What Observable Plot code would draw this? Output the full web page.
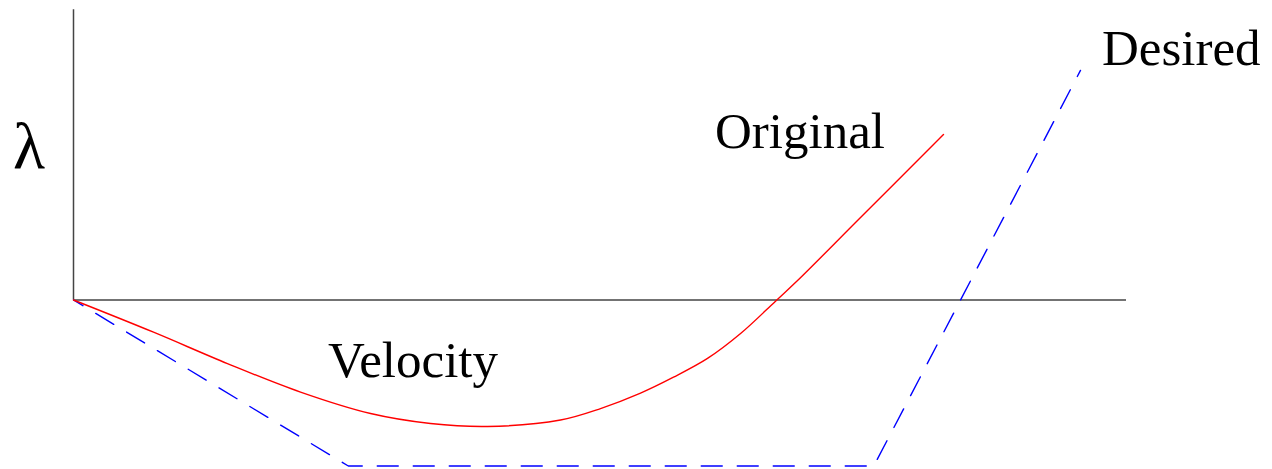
<!DOCTYPE html>
<html>
<head>
<meta charset="utf-8">
<script src="https://cdn.jsdelivr.net/npm/d3@7"></script>
<script src="https://cdn.jsdelivr.net/npm/@observablehq/plot@0.6"></script>
<style>
  html, body { margin: 0; padding: 0; background: #fff; }
  #chart { position: relative; width: 1272px; height: 469px; }
  #chart svg { display: block; overflow: visible; }
  .lbl { position: absolute; white-space: nowrap; font-family: 'Liberation Serif', 'Times New Roman', serif; color: #000; line-height: 1; margin: 0; padding: 0; }
  .lbl .base { display: inline-block; width: 0; height: 0; }
</style>
</head>
<body>
<div id="chart"></div>
<script>
// Original curve (red)
const originalX = [0, 0.760, 1.462, 2.156, 2.821, 3.390, 3.932, 4.625, 5.005, 5.385, 5.698, 6.021, 6.335, 6.667, 6.876, 7.474, 8.262];
const originalY = [0, -0.194, -0.383, -0.555, -0.684, -0.744, -0.762, -0.723, -0.654, -0.561, -0.465, -0.352, -0.202, -0.007, 0.117, 0.497, 0.997];
// Desired curve (blue dashed)
const desiredX = [0, 2.61, 7.60, 9.563];
const desiredY = [0, -1, -1, 1.383];
// Text labels
const labelText = ["λ", "Original", "Desired", "Velocity"];
const labelX = [-0.57, 6.097, 9.772, 2.422];
const labelY = [0.792, 0.913, 1.413, -0.467];
const labelSize = [66, 51, 51, 51];

const original = originalX.map((x, i) => ({x, y: originalY[i]}));
const desired = desiredX.map((x, i) => ({x, y: desiredY[i]}));

const plot = Plot.plot({
  width: 1272,
  height: 469,
  x: {domain: [0, 10], range: [73, 1126], axis: null},
  y: {domain: [-1, 1.748], range: [465.5, 9.3], axis: null},
  marks: [
    Plot.ruleX([0], {y1: 0, y2: 1.748, stroke: "#444", strokeWidth: 1.5}),
    Plot.ruleY([0], {x1: 0, x2: 10, stroke: "#444", strokeWidth: 1.5}),
    Plot.line(desired, {x: "x", y: "y", stroke: "#0000ff", strokeWidth: 1.4, strokeDasharray: "21,15", strokeDashoffset: 10}),
    Plot.line(original, {x: "x", y: "y", stroke: "#ff0000", strokeWidth: 1.4, curve: "catmull-rom"})
  ]
});
const chart = document.getElementById("chart");
chart.appendChild(plot);

// Labels placed through the plot's own scales, as HTML text (baseline at the scaled point)
const sx = plot.scale("x"), sy = plot.scale("y");
labelText.forEach((t, i) => {
  const div = document.createElement("div");
  div.className = "lbl";
  div.style.fontSize = labelSize[i] + "px";
  const base = document.createElement("span");
  base.className = "base";
  div.appendChild(base);
  div.appendChild(document.createTextNode(t));
  div.style.left = "0px";
  div.style.top = "0px";
  chart.appendChild(div);
  const baselineOffset = base.offsetTop;
  div.style.left = sx.apply(labelX[i]) + "px";
  div.style.top = (sy.apply(labelY[i]) - baselineOffset) + "px";
});
</script>
</body>
</html>
